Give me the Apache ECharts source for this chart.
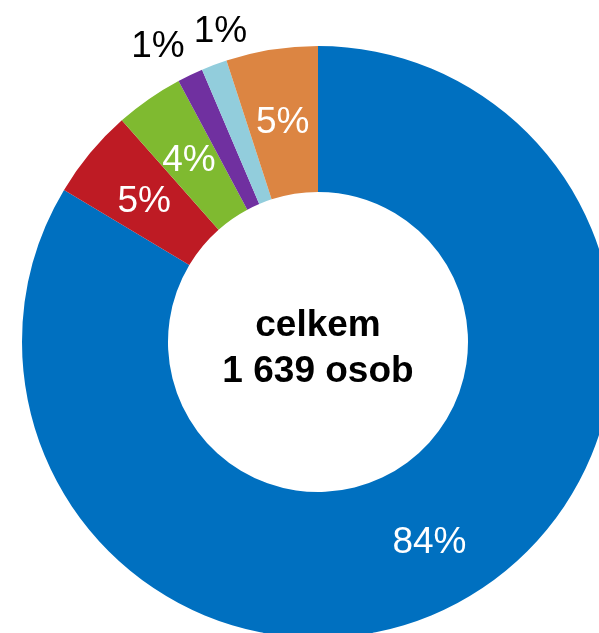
<!DOCTYPE html>
<html>
<head>
<meta charset="utf-8">
<script src="https://cdn.jsdelivr.net/npm/echarts@6/dist/echarts.min.js"></script>
<style>
  html, body { margin: 0; padding: 0; background: #fff; }
  #chart { width: 599px; height: 633px; }
</style>
</head>
<body>
<div id="chart"></div>
<script>
// data – counts (odhad z obrázku), celkem 1 639
var categories = ['A', 'B', 'C', 'D', 'E', 'F']
var counts = [1370, 80, 61, 23, 23, 82]
var colors = ['#0070c0', '#be1b24', '#7fba30', '#7030a0', '#92cddc', '#dc8542']
var centerLines = ['celkem', '1 639 osob']

var total = counts.reduce(function(a, b) { return a + b }, 0)
// posun popisků malých výsečí (mimo prstenec)
var outerOffsets = { 3: [-14, 10], 4: [21, 6] }

var chart = echarts.init(document.getElementById('chart'))

var inner = categories.map(function(name, i) {
  return { name: name, value: counts[i], itemStyle: { color: colors[i] } }
})
var outer = categories.map(function(name, i) {
  var small = counts[i] / total < 0.02
  return {
    name: name,
    value: counts[i],
    label: { show: small, offset: outerOffsets[i] || [0, 0] }
  }
})

chart.setOption({
  animation: false,
  series: [
    {
      type: 'pie',
      center: [318, 342],
      radius: [150, 296],
      startAngle: 90,
      clockwise: true,
      silent: true,
      label: {
        show: true,
        position: 'inside',
        color: '#fff',
        fontSize: 37,
        fontFamily: 'Liberation Sans',
        offset: [0, 4],
        formatter: function(p) {
          return p.percent < 2 ? '' : Math.round(p.percent) + '%'
        }
      },
      labelLine: { show: false },
      data: inner
    },
    {
      // neviditelný prstenec jen pro popisky malých výsečí
      type: 'pie',
      center: [318, 342],
      radius: [310, 360],
      startAngle: 90,
      clockwise: true,
      silent: true,
      itemStyle: { color: 'rgba(0,0,0,0)' },
      label: {
        position: 'inside',
        color: '#000',
        fontSize: 37,
        fontFamily: 'Liberation Sans',
        formatter: function(p) {
          return Math.round(p.percent) + '%'
        }
      },
      labelLine: { show: false },
      data: outer
    }
  ],
  graphic: [
    {
      type: 'text',
      x: 318,
      y: 349,
      style: {
        text: centerLines.join('\n'),
        textAlign: 'center',
        textVerticalAlign: 'middle',
        font: 'bold 37px "Liberation Sans"',
        lineHeight: 46,
        fill: '#000'
      }
    }
  ]
})
</script>
</body>
</html>
